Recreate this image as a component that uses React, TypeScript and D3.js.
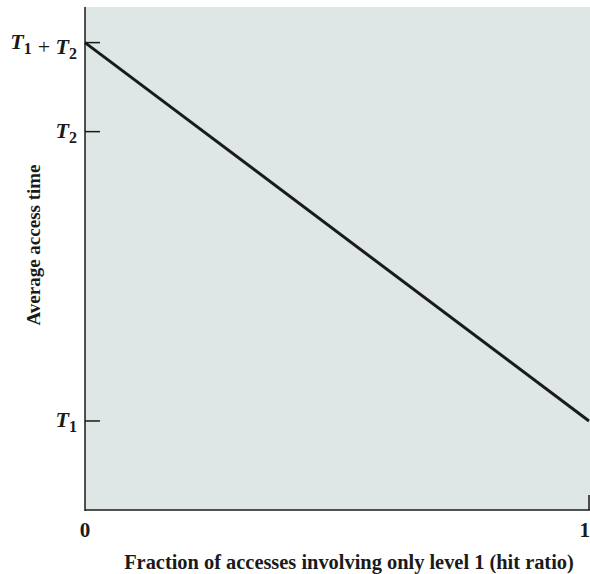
import React from "react";
import * as d3 from "d3";

const T1 = 1;
const T2 = 4.25;
const hitRatios = [0, 1];
const accessTimes = [T1 + T2, T1];
const yTicks = [
  { v: T1 + T2, parts: [["T", "1"], ["+"], ["T", "2"]] },
  { v: T2, parts: [["T", "2"]] },
  { v: T1, parts: [["T", "1"]] },
];
const xTicks = [0, 1];
const xLabel = "Fraction of accesses involving only level 1 (hit ratio)";
const yLabel = "Average access time";

const W = 590, H = 574;
const L = 85, R = 589, TOP = 7, BOT = 510;

export default function App() {
  const x = d3.scaleLinear().domain([0, 1]).range([L, R]);
  const y = d3.scaleLinear().domain([0, 5.65]).range([BOT, TOP]);
  const line = d3.line<number>().x((_, i) => x(hitRatios[i])).y((d) => y(d));
  const font = "'Liberation Serif', 'Times New Roman', serif";
  return (
    <svg width={W} height={H} style={{ position: "absolute", left: 0, top: 0, fontFamily: font }}>
      <rect x={L} y={TOP} width={W - L} height={BOT - TOP} fill="#dee7e5" />
      <line x1={L} y1={TOP} x2={L} y2={BOT + 1} stroke="#1a1a1a" strokeWidth={1.5} />
      <line x1={L} y1={BOT} x2={W} y2={BOT} stroke="#1a1a1a" strokeWidth={1.5} />
      {yTicks.map((t, i) => (
        <g key={i}>
          <line x1={L} x2={L + 15} y1={y(t.v)} y2={y(t.v)} stroke="#1a1a1a" strokeWidth={1.5} />
          <text x={L - 8} y={y(t.v) + 6} textAnchor="end" fontSize={22} fontWeight="bold" fill="#1a1a1a">
            {t.parts.map((p, j) =>
              p.length === 1 ? (
                <tspan key={j} fontStyle="normal" fontWeight="normal" dx={6}>{p[0] + " "}</tspan>
              ) : (
                <React.Fragment key={j}>
                  <tspan fontStyle="italic">{p[0]}</tspan>
                  <tspan fontSize={16} dy={5}>{p[1]}</tspan>
                  <tspan dy={-5}>{""}</tspan>
                </React.Fragment>
              )
            )}
          </text>
        </g>
      ))}
      {xTicks.map((t, i) => (
        <g key={i}>
          {t > 0 && <line x1={x(t)} x2={x(t)} y1={BOT} y2={BOT - 15} stroke="#1a1a1a" strokeWidth={1.5} />}
          <text x={t > 0 ? W : x(t)} y={537} textAnchor={t > 0 ? "end" : "middle"} fontSize={21} fontWeight="bold" fill="#1a1a1a">{t}</text>
        </g>
      ))}
      <path d={line(accessTimes) || ""} fill="none" stroke="#1a1a1a" strokeWidth={3} />
      <text x={349} y={569} textAnchor="middle" fontSize={20.4} fontWeight="bold" fill="#1a1a1a">{xLabel}</text>
      <text transform={`translate(40,245) rotate(-90)`} textAnchor="middle" fontSize={19} fontWeight="bold" fill="#1a1a1a">{yLabel}</text>
    </svg>
  );
}
